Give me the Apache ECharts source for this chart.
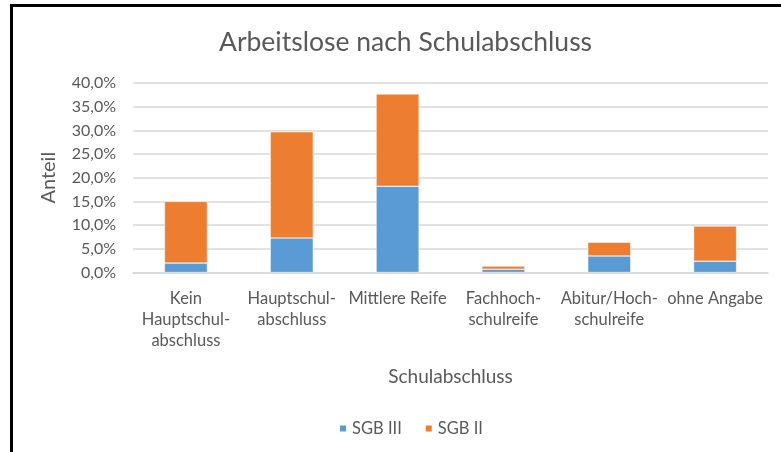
<!DOCTYPE html>
<html><head><meta charset="utf-8">
<script src="https://cdn.jsdelivr.net/npm/echarts@6/dist/echarts.min.js"></script>
<style>html,body{margin:0;padding:0;background:#fff}#c{width:781px;height:452px}</style>
</head><body><div id="c"></div>
<script>
const categories = ["Kein\nHauptschul-\nabschluss", "Hauptschul-\nabschluss", "Mittlere Reife", "Fachhoch-\nschulreife", "Abitur/Hoch-\nschulreife", "ohne Angabe"];
const sgb3 = [2.0, 7.3, 18.2, 0.7, 3.5, 2.4];
const sgb2 = [13.0, 22.4, 19.5, 0.65, 2.9, 7.4];
const yTicks = {min: 0, max: 40, interval: 5};
const FONT = 'Lato';
const TXT = '#595959';
const chart = echarts.init(document.getElementById('c'));
chart.setOption({
  animation: false,
  title: {text: 'Arbeitslose nach Schulabschluss', left: 214, top: 24,
    textStyle: {fontFamily: FONT, fontSize: 26.5, fontWeight: 'normal', color: TXT}},
  grid: {left: 133, right: 13, top: 83, bottom: 179.5},
  legend: {bottom: 10, left: 333, itemWidth: 8, itemHeight: 8, itemGap: 22,
    icon: 'rect', textStyle: {fontFamily: FONT, fontSize: 16.5, color: TXT},
    data: ['SGB III', 'SGB II']},
  xAxis: {type: 'category', data: categories,
    name: 'Schulabschluss', nameLocation: 'middle', nameGap: 95,
    nameTextStyle: {fontFamily: FONT, fontSize: 19, color: TXT},
    axisLine: {lineStyle: {color: '#d9d9d9', width: 1.5}}, axisTick: {show: false},
    axisLabel: {interval: 0, fontFamily: FONT, fontSize: 16.5, color: TXT, lineHeight: 21, margin: 16}},
  yAxis: {type: 'value', min: yTicks.min, max: yTicks.max, interval: yTicks.interval,
    name: 'Anteil', nameLocation: 'middle', nameGap: 74, nameRotate: 90,
    nameTextStyle: {fontFamily: FONT, fontSize: 20, color: TXT},
    axisLabel: {fontFamily: FONT, fontSize: 16, color: TXT, margin: 17,
      formatter: v => v.toFixed(1).replace('.', ',') + '%'},
    splitLine: {lineStyle: {color: '#d9d9d9', width: 1.5}},
    axisLine: {show: false}, axisTick: {show: false}},
  series: [
    {name: 'SGB III', type: 'bar', stack: 's', data: sgb3, barWidth: 43,
      itemStyle: {color: '#5b9bd5', borderColor: '#fff', borderWidth: 0.5}},
    {name: 'SGB II', type: 'bar', stack: 's', data: sgb2, barWidth: 43,
      itemStyle: {color: '#ed7d31', borderColor: '#fff', borderWidth: 0.5}}
  ],
  graphic: [
    {type: 'line', shape: {x1: 10, y1: 5.5, x2: 781, y2: 5.5}, style: {stroke: '#000', lineWidth: 3}},
    {type: 'line', shape: {x1: 11.5, y1: 4, x2: 11.5, y2: 452}, style: {stroke: '#000', lineWidth: 3}}
  ]
});
</script></body></html>
